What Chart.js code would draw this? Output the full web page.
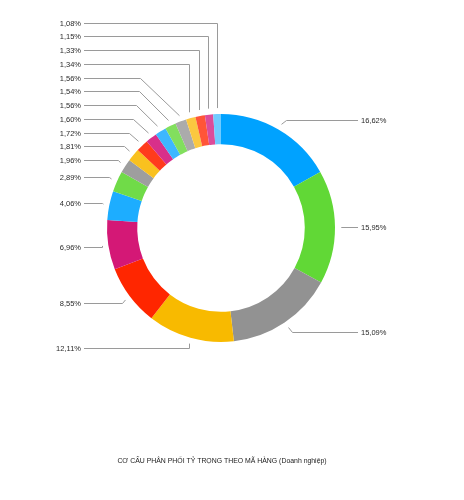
<!DOCTYPE html>
<html>
<head>
<meta charset="utf-8">
<script src="https://cdn.jsdelivr.net/npm/chart.js@4.4.1/dist/chart.umd.min.js"></script>
<style>
  html, body { margin: 0; padding: 0; background: #ffffff; }
  #wrap { width: 464px; height: 500px; position: relative; }
</style>
</head>
<body>
<div id="wrap"><canvas id="c" width="464" height="500"></canvas></div>
<script>
// ---- Data ----
const categories = ["MH01","MH02","MH03","MH04","MH05","MH06","MH07","MH08","MH09","MH10",
                    "MH11","MH12","MH13","MH14","MH15","MH16","MH17","MH18","MH19"];
const shares = [16.62, 15.95, 15.09, 12.11, 8.55, 6.96, 4.06, 2.89, 1.96, 1.81,
                1.72, 1.60, 1.56, 1.54, 1.56, 1.34, 1.33, 1.15, 1.08];
const sliceColors = [
  "#00A2FF","#61D836","#929292","#F8BA00","#FF2600","#D41876",
  "#1DADFF","#70DB48","#9E9E9E","#F9C11F","#FF3B1D","#D8308A",
  "#3DB7FF","#82DF5E","#ABABAB","#FBC840","#FF5538","#DC4C9A",
  "#70CBFF"
];
const chartTitle = "CƠ CẤU PHÂN PHỐI TỶ TRỌNG THEO MÃ HÀNG (Doanh nghiệp)";

function fmt(v) { return v.toFixed(2).replace(".", ",") + "%"; }

const FONT = "7.5px 'Liberation Sans', Arial, Helvetica, sans-serif";
const TITLE_FONT = "6.9px 'Liberation Sans', Arial, Helvetica, sans-serif";

const leaderLabels = {
  id: "leaderLabels",
  afterDraw(chart) {
    const ctx = chart.ctx;
    const meta = chart.getDatasetMeta(0);
    const ca = chart.chartArea;
    const leftEdge = ca.left - 23;
    const rightEdge = ca.right + 23;
    const items = meta.data.map((arc, i) => {
      const p = arc.getProps(["x","y","startAngle","endAngle","outerRadius"], true);
      const mid = (p.startAngle + p.endAngle) / 2;
      const dx = Math.cos(mid), dy = Math.sin(mid);
      const ax = p.x + (p.outerRadius + 6) * dx;
      const ay = p.y + (p.outerRadius + 6) * dy;
      const ny = p.y + (p.outerRadius + 11) * dy;
      return { i, mid, dx, dy, ax, ay, ny, right: dx >= 0 };
    });
    const SP = 13.75;
    const left = items.filter(o => !o.right).sort((a, b) => b.ny - a.ny);
    let prev = Infinity;
    left.forEach(o => { o.ly = Math.min(o.ny, prev - SP); prev = o.ly; });
    const right = items.filter(o => o.right).sort((a, b) => a.ny - b.ny);
    prev = -Infinity;
    right.forEach(o => { o.ly = Math.max(o.ny, prev + SP); prev = o.ly; });

    ctx.save();
    ctx.strokeStyle = "#9a9a9a";
    ctx.lineWidth = 1;
    ctx.font = FONT;
    ctx.fillStyle = "#2a2a2a";
    ctx.textBaseline = "middle";
    items.forEach(o => {
      const vert = Math.abs(o.dx) < Math.sin(18 * Math.PI / 180);
      const ddy = Math.abs(o.ly - o.ay);
      const ex = vert ? o.ax : o.ax + (o.right ? 1 : -1) * ddy;
      const endX = o.right ? rightEdge : leftEdge;
      ctx.beginPath();
      ctx.moveTo(Math.round(o.ax) + 0.5, o.ay);
      ctx.lineTo(Math.round(ex) + 0.5, Math.round(o.ly) + 0.5);
      ctx.lineTo(endX, Math.round(o.ly) + 0.5);
      ctx.stroke();
      const txt = fmt(shares[o.i]);
      if (o.right) {
        ctx.textAlign = "left";
        ctx.fillText(txt, rightEdge + 3, Math.round(o.ly) + 1);
      } else {
        ctx.textAlign = "right";
        ctx.fillText(txt, leftEdge - 3, Math.round(o.ly) + 1);
      }
    });
    ctx.font = TITLE_FONT;
    ctx.textAlign = "center";
    ctx.fillStyle = "#1a1a1a";
    ctx.fillText(chartTitle, 222, 461);
    ctx.restore();
  }
};

new Chart(document.getElementById("c"), {
  type: "doughnut",
  data: {
    labels: categories,
    datasets: [{
      data: shares,
      backgroundColor: sliceColors,
      borderWidth: 0,
      hoverOffset: 0
    }]
  },
  options: {
    responsive: false,
    animation: false,
    cutout: "73.5%",
    rotation: 0,
    layout: { padding: { left: 107, right: 129, top: 114, bottom: 158 } },
    plugins: {
      legend: { display: false },
      tooltip: { enabled: false },
      title: { display: false }
    },
    events: []
  },
  plugins: [leaderLabels]
});
</script>
</body>
</html>
